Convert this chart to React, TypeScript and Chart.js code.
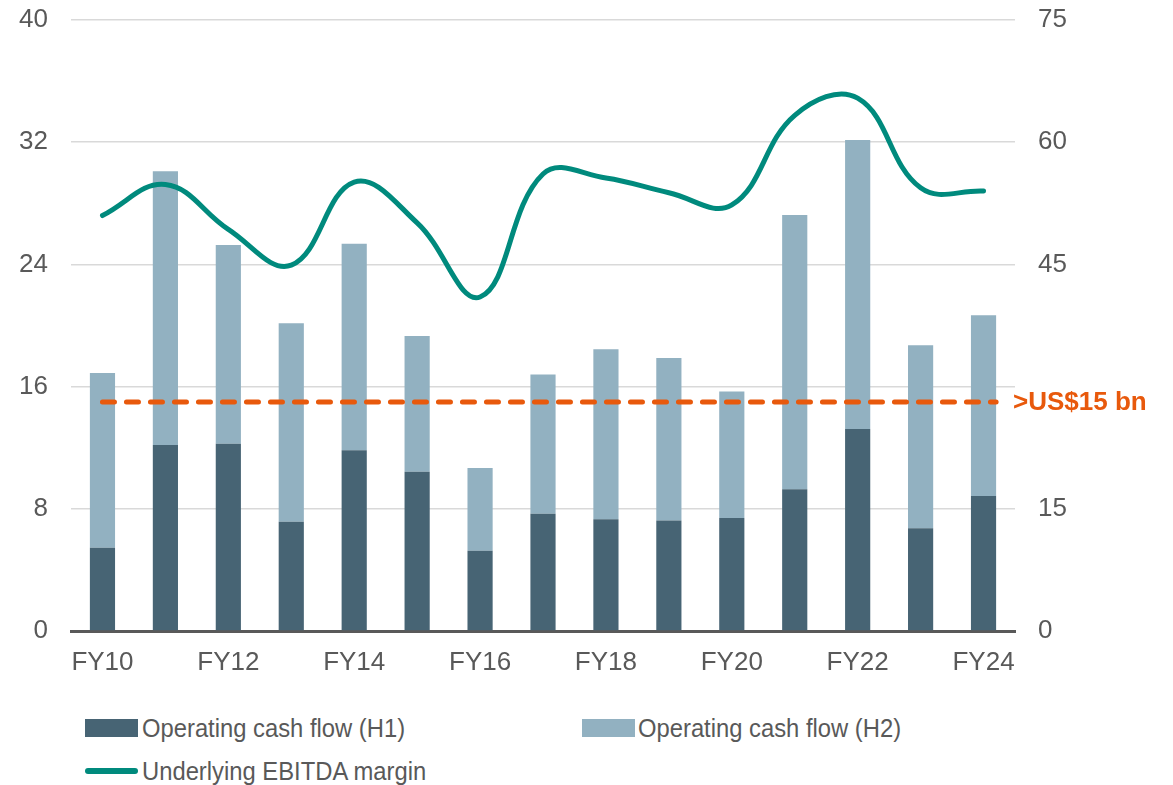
import React, { useEffect, useRef } from "react";
import { Chart, registerables } from "chart.js";

Chart.register(...registerables);

const CATEGORIES = ["FY10","FY11","FY12","FY13","FY14","FY15","FY16","FY17","FY18","FY19","FY20","FY21","FY22","FY23","FY24"];
const OCF_H1 = [5.45, 12.18, 12.26, 7.16, 11.83, 10.43, 5.26, 7.68, 7.31, 7.24, 7.40, 9.28, 13.22, 6.72, 8.83];
const OCF_H2 = [11.44, 17.92, 13.01, 12.98, 13.53, 8.88, 5.41, 9.12, 11.14, 10.63, 8.28, 17.95, 18.92, 11.98, 11.84];
const EBITDA_MARGIN = [51.0, 54.8, 49.3, 44.9, 55.1, 50.1, 41.0, 56.1, 55.6, 53.8, 52.3, 63.3, 65.4, 54.4, 54.0];
const LEFT_TICKS = [0, 8, 16, 24, 32, 40];
const RIGHT_TICKS = [0, 15, 30, 45, 60, 75];
const TARGET_VALUE = 15;
const TARGET_LABEL = ">US$15 bn";
const LEGEND_LABELS = ["Operating cash flow (H1)", "Operating cash flow (H2)", "Underlying EBITDA margin"];

const C_H1 = "#476474";
const C_H2 = "#92B1C1";
const C_LINE = "#008A7D";
const C_TARGET = "#E8590C";
const C_TEXT = "#595959";
const FONT = "'Liberation Sans', Arial, sans-serif";

const targetPlugin = {
  id: "targetLine",
  afterDatasetsDraw(chart: any) {
    const { ctx, chartArea } = chart;
    const x = chart.scales.x;
    const y = chart.scales.y;
    const py = y.getPixelForValue(TARGET_VALUE);
    const x0 = x.getPixelForValue(0);
    const x1 = x.getPixelForValue(CATEGORIES.length - 1 + 0.2);
    ctx.save();
    ctx.strokeStyle = C_TARGET;
    ctx.lineWidth = 5;
    ctx.lineCap = "round";
    ctx.setLineDash([12, 12]);
    ctx.beginPath();
    ctx.moveTo(x0, py);
    ctx.lineTo(x1, py);
    ctx.stroke();
    ctx.restore();
    ctx.save();
    ctx.fillStyle = C_TARGET;
    ctx.font = `bold 26px ${FONT}`;
    ctx.textAlign = "left";
    ctx.textBaseline = "middle";
    ctx.fillText(TARGET_LABEL, chartArea.right - 2, py + 1);
    ctx.restore();
  },
};

export default function App() {
  const ref = useRef<HTMLCanvasElement>(null);
  useEffect(() => {
    if (!ref.current) return;
    const chart = new Chart(ref.current, {
      type: "bar",
      data: {
        labels: CATEGORIES,
        datasets: [
          {
            type: "line",
            label: LEGEND_LABELS[2],
            data: EBITDA_MARGIN,
            yAxisID: "y1",
            borderColor: C_LINE,
            borderWidth: 5,
            borderCapStyle: "round",
            borderJoinStyle: "round",
            pointRadius: 0,
            tension: 0.4,
            fill: false,
            order: 0,
          } as any,
          {
            label: LEGEND_LABELS[0],
            data: OCF_H1,
            backgroundColor: C_H1,
            stack: "cf",
            yAxisID: "y",
            order: 1,
            barPercentage: 0.4,
            categoryPercentage: 1,
          },
          {
            label: LEGEND_LABELS[1],
            data: OCF_H2,
            backgroundColor: C_H2,
            stack: "cf",
            yAxisID: "y",
            order: 1,
            barPercentage: 0.4,
            categoryPercentage: 1,
          },
        ],
      },
      options: {
        responsive: false,
        animation: false,
        layout: { padding: { top: 20, bottom: 0, left: 0, right: 0 } },
        plugins: { legend: { display: false }, tooltip: { enabled: false }, title: { display: false } },
        scales: {
          x: {
            stacked: true,
            grid: { display: false, drawTicks: false },
            border: { display: true, color: "#595959", width: 3 },
            ticks: {
              autoSkip: false,
              maxRotation: 0,
              padding: 16,
              color: C_TEXT,
              font: { family: FONT, size: 26 },
              callback: (_v: any, i: number) => (i % 2 === 0 ? CATEGORIES[i] : ""),
            },
            afterFit: (s: any) => { s.height = 69; s.paddingLeft = 0; s.paddingRight = 0; },
          },
          y: {
            stacked: true,
            position: "left",
            min: LEFT_TICKS[0],
            max: LEFT_TICKS[LEFT_TICKS.length - 1],
            afterBuildTicks: (s: any) => { s.ticks = LEFT_TICKS.map((v) => ({ value: v })); },
            grid: { color: "#D9D9D9", lineWidth: 1.5, drawTicks: false },
            border: { display: false },
            ticks: { padding: 23, color: C_TEXT, font: { family: FONT, size: 26 } },
            afterFit: (s: any) => { s.width = 71; s.paddingTop = 0; s.paddingBottom = 0; },
          },
          y1: {
            position: "right",
            min: RIGHT_TICKS[0],
            max: RIGHT_TICKS[RIGHT_TICKS.length - 1],
            afterBuildTicks: (s: any) => { s.ticks = RIGHT_TICKS.map((v) => ({ value: v })); },
            grid: { display: false, drawTicks: false },
            border: { display: false },
            ticks: {
              padding: 23,
              color: C_TEXT,
              font: { family: FONT, size: 26 },
              callback: (v: any) => (v === 30 ? "" : String(v)),
            },
            afterFit: (s: any) => { s.width = 158; s.paddingTop = 0; s.paddingBottom = 0; },
          },
        },
      },
      plugins: [targetPlugin],
    });
    return () => chart.destroy();
  }, []);

  const textStyle: React.CSSProperties = {
    position: "absolute",
    fontFamily: FONT,
    fontSize: 26,
    color: C_TEXT,
    lineHeight: "30px",
    whiteSpace: "nowrap",
    transform: "scaleX(0.915)",
    transformOrigin: "left center",
  };

  return (
    <div style={{ position: "absolute", left: 0, top: 0, width: 1173, height: 785, background: "#fff" }}>
      <canvas ref={ref} width={1173} height={700} style={{ position: "absolute", left: 0, top: 0 }} />
      <div style={{ position: "absolute", left: 85, top: 719, width: 53, height: 18, background: C_H1 }} />
      <div style={{ ...textStyle, left: 142, top: 713 }}>{LEGEND_LABELS[0]}</div>
      <div style={{ position: "absolute", left: 582, top: 719, width: 53, height: 18, background: C_H2 }} />
      <div style={{ ...textStyle, left: 638, top: 713 }}>{LEGEND_LABELS[1]}</div>
      <div style={{ position: "absolute", left: 85, top: 768, width: 53, height: 6, borderRadius: 3, background: C_LINE }} />
      <div style={{ ...textStyle, left: 142, top: 756 }}>{LEGEND_LABELS[2]}</div>
    </div>
  );
}
